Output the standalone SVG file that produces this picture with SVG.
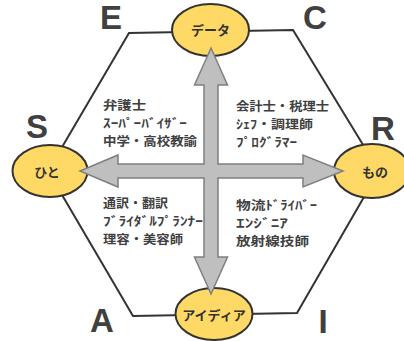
<svg xmlns="http://www.w3.org/2000/svg" width="404" height="341" viewBox="0 0 404 341">
<style>
.frame{fill:none;stroke:#333;stroke-width:2;stroke-linejoin:miter}
.node ellipse{fill:#ffd966;stroke:#333;stroke-width:2}
.nl{font-family:"Noto Sans CJK JP",sans-serif;font-weight:bold;font-size:13px;fill:#333;text-anchor:middle}
.big{font-family:"Liberation Sans",Arial,sans-serif;font-weight:bold;font-size:33px;fill:#404040;text-anchor:middle}
.job{font-family:"Noto Sans CJK JP",sans-serif;font-weight:bold;font-size:12.4px;fill:#404040}
.arrow{fill:#bfbfbf;stroke:#7f7f7f;stroke-width:1.5;stroke-linejoin:miter}
</style>
<rect width="404" height="341" fill="#fff"/>
<g id="frame">
<polyline class="frame" points="48,171 129,33 293,30 379,171 297,313 133,316 48,171"/>
</g>
<g id="letters">
<text class="big" x="111" y="29" font-size="31">E</text>
<text class="big" x="315" y="29" font-size="31">C</text>
<text class="big" x="37" y="138">S</text>
<text class="big" x="383" y="140">R</text>
<text class="big" x="102" y="332">A</text>
<text class="big" x="323" y="333">I</text>
</g>
<g id="node-data" class="node"><ellipse cx="210.5" cy="30" rx="38.5" ry="26"/><text class="nl" x="210.5" y="35">データ</text></g>
<g id="node-idea" class="node"><ellipse cx="214" cy="314" rx="38.5" ry="26"/><text class="nl" x="214" y="320">アイディア</text></g>
<g id="node-hito" class="node"><ellipse cx="50" cy="171" rx="37.5" ry="26"/><text class="nl" x="47" y="177">ひと</text></g>
<g id="node-mono" class="node"><ellipse cx="372" cy="171" rx="38" ry="27"/><text class="nl" x="375" y="177">もの</text></g>
<g id="connectors">
<polygon class="arrow" points="211,48 227.5,85 218,85 218,164 303,164 303,155 343,171 303,187 303,178 218,178 218,257 227.5,257 211,294 194.5,257 204,257 204,178 118,178 118,187 80,171 118,155 118,164 204,164 204,85 194.5,85"/>
</g>
<g id="jobs">
<text class="job" x="103" y="110" textLength="43" lengthAdjust="spacingAndGlyphs">弁護士</text>
<text class="job" x="103" y="128" textLength="84" lengthAdjust="spacingAndGlyphs">ｽｰﾊﾟｰﾊﾞｲｻﾞｰ</text>
<text class="job" x="103" y="146" textLength="94" lengthAdjust="spacingAndGlyphs">中学・高校教諭</text>
<text class="job" x="236" y="111" textLength="93" lengthAdjust="spacingAndGlyphs">会計士・税理士</text>
<text class="job" x="236" y="129" textLength="77" lengthAdjust="spacingAndGlyphs">ｼｪﾌ・調理師</text>
<text class="job" x="236" y="147" textLength="61" lengthAdjust="spacingAndGlyphs">ﾌﾟﾛｸﾞﾗﾏｰ</text>
<text class="job" x="103" y="208" textLength="65" lengthAdjust="spacingAndGlyphs">通訳・翻訳</text>
<text class="job" x="103" y="226" textLength="100" lengthAdjust="spacingAndGlyphs">ﾌﾞﾗｲﾀﾞﾙﾌﾟﾗﾝﾅｰ</text>
<text class="job" x="103" y="244" textLength="80" lengthAdjust="spacingAndGlyphs">理容・美容師</text>
<text class="job" x="236" y="210" textLength="81" lengthAdjust="spacingAndGlyphs">物流ﾄﾞﾗｲﾊﾞｰ</text>
<text class="job" x="236" y="228" textLength="52" lengthAdjust="spacingAndGlyphs">ｴﾝｼﾞﾆｱ</text>
<text class="job" x="236" y="246" textLength="73" lengthAdjust="spacingAndGlyphs">放射線技師</text>
</g>
</svg>
